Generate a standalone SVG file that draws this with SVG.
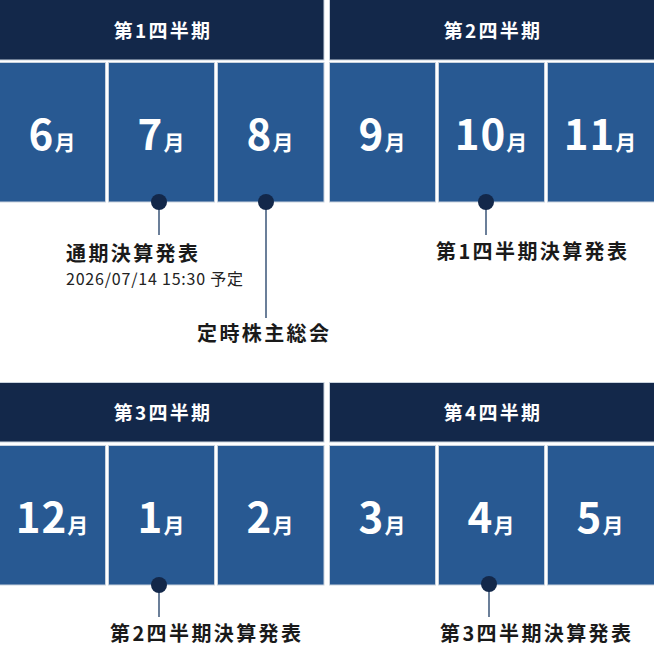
<svg xmlns="http://www.w3.org/2000/svg" width="654" height="650" viewBox="0 0 654 650">
<style>
.hd{fill:#13284a;stroke:#c9d3de;stroke-width:1}
.mo{fill:#285992;stroke:#c9d3de;stroke-width:1}
text{font-family:"Noto Sans CJK JP","Noto Sans",sans-serif}
.ht{fill:#fff;font-size:19px;font-weight:700;text-anchor:middle;letter-spacing:2.3px}
.num{fill:#fff;font-size:42px;font-weight:700;letter-spacing:1px}
.mn{fill:#fff;font-size:21px;font-weight:700}
.ev{fill:#1a1a1a;font-size:20px;font-weight:700;letter-spacing:2.4px}
.sub{fill:#222;font-size:16px;letter-spacing:0.8px}
.ln{stroke:#6b7f99;stroke-width:2}
.dot{fill:#13284a}
</style>
<rect width="654" height="650" fill="#fff"/>
<g id="q1">
<rect class="hd" x="-0.5" y="-0.5" width="324.5" height="60.5"/>
<text class="ht" x="163" y="38">第1四半期</text>
</g>
<g id="q2">
<rect class="hd" x="329.5" y="-0.5" width="325" height="60.5"/>
<text class="ht" x="493" y="38">第2四半期</text>
</g>
<g id="m6"><rect class="mo" x="-0.5" y="62.5" width="106" height="139.5"/><text x="52" y="150" text-anchor="middle"><tspan class="num">6</tspan><tspan class="mn">月</tspan></text></g>
<g id="m7"><rect class="mo" x="108.5" y="62.5" width="106" height="139.5"/><text x="161" y="150" text-anchor="middle"><tspan class="num">7</tspan><tspan class="mn">月</tspan></text></g>
<g id="m8"><rect class="mo" x="217.5" y="62.5" width="106.5" height="139.5"/><text x="270" y="150" text-anchor="middle"><tspan class="num">8</tspan><tspan class="mn">月</tspan></text></g>
<g id="m9"><rect class="mo" x="329.5" y="62.5" width="106" height="139.5"/><text x="382" y="150" text-anchor="middle"><tspan class="num">9</tspan><tspan class="mn">月</tspan></text></g>
<g id="m10"><rect class="mo" x="438.5" y="62.5" width="106" height="139.5"/><text x="491" y="150" text-anchor="middle"><tspan class="num">10</tspan><tspan class="mn">月</tspan></text></g>
<g id="m11"><rect class="mo" x="547.5" y="62.5" width="107" height="139.5"/><text x="600" y="150" text-anchor="middle"><tspan class="num">11</tspan><tspan class="mn">月</tspan></text></g>

<g id="q3">
<rect class="hd" x="-0.5" y="382.5" width="324.5" height="59.5"/>
<text class="ht" x="163" y="420">第3四半期</text>
</g>
<g id="q4">
<rect class="hd" x="329.5" y="382.5" width="325" height="59.5"/>
<text class="ht" x="493" y="420">第4四半期</text>
</g>
<g id="m12"><rect class="mo" x="-0.5" y="445.5" width="106" height="139.5"/><text x="52" y="533" text-anchor="middle"><tspan class="num">12</tspan><tspan class="mn">月</tspan></text></g>
<g id="m1"><rect class="mo" x="108.5" y="445.5" width="106" height="139.5"/><text x="161" y="533" text-anchor="middle"><tspan class="num">1</tspan><tspan class="mn">月</tspan></text></g>
<g id="m2"><rect class="mo" x="217.5" y="445.5" width="106.5" height="139.5"/><text x="270" y="533" text-anchor="middle"><tspan class="num">2</tspan><tspan class="mn">月</tspan></text></g>
<g id="m3"><rect class="mo" x="329.5" y="445.5" width="106" height="139.5"/><text x="382" y="533" text-anchor="middle"><tspan class="num">3</tspan><tspan class="mn">月</tspan></text></g>
<g id="m4"><rect class="mo" x="438.5" y="445.5" width="106" height="139.5"/><text x="491" y="533" text-anchor="middle"><tspan class="num">4</tspan><tspan class="mn">月</tspan></text></g>
<g id="m5"><rect class="mo" x="547.5" y="445.5" width="107" height="139.5"/><text x="600" y="533" text-anchor="middle"><tspan class="num">5</tspan><tspan class="mn">月</tspan></text></g>

<g id="connectors">
<line class="ln" x1="159" y1="202" x2="159" y2="235"/>
<line class="ln" x1="266" y1="202" x2="266" y2="318"/>
<line class="ln" x1="486" y1="202" x2="486" y2="235"/>
<line class="ln" x1="159" y1="585" x2="159" y2="617"/>
<line class="ln" x1="489" y1="584" x2="489" y2="617"/>
<circle class="dot" cx="159" cy="202" r="8"/>
<circle class="dot" cx="266" cy="202" r="8"/>
<circle class="dot" cx="486" cy="202" r="8"/>
<circle class="dot" cx="159" cy="585" r="8"/>
<circle class="dot" cx="489" cy="584" r="8"/>
</g>
<g id="ev1">
<text class="ev" x="66" y="261">通期決算発表</text>
<text class="sub" x="66" y="285">2026/07/14 15:30 予定</text>
</g>
<g id="ev2"><text class="ev" x="197" y="341">定時株主総会</text></g>
<g id="ev3"><text class="ev" x="436" y="259">第1四半期決算発表</text></g>
<g id="ev4"><text class="ev" x="110" y="641">第2四半期決算発表</text></g>
<g id="ev5"><text class="ev" x="440" y="641">第3四半期決算発表</text></g>
</svg>
